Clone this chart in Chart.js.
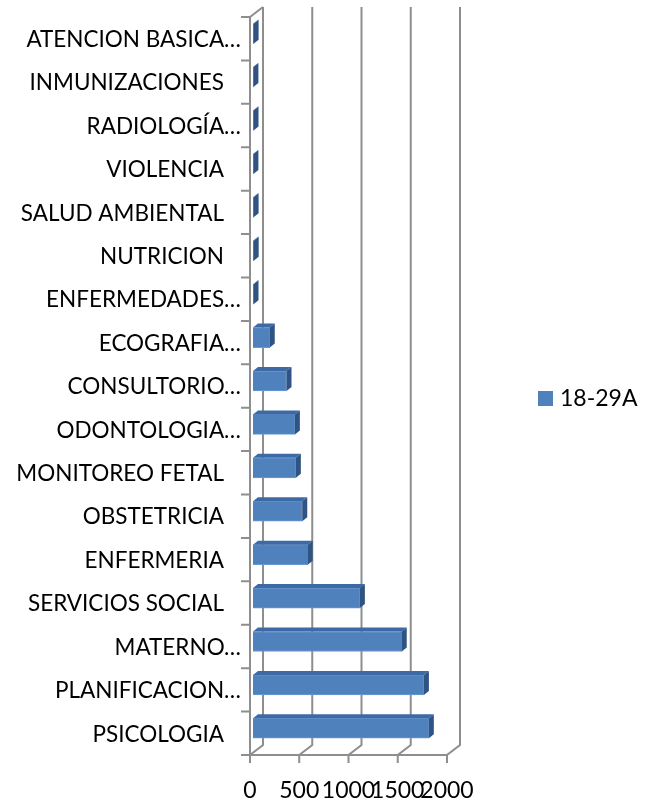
<!DOCTYPE html>
<html>
<head>
<meta charset="utf-8">
<script src="https://cdn.jsdelivr.net/npm/chart.js@4/dist/chart.umd.min.js"></script>
<style>
html,body{margin:0;padding:0;background:#fff;}
#wrap{width:654px;height:801px;position:relative;}
</style>
</head>
<body>
<div id="wrap"><canvas id="c" width="654" height="801"></canvas></div>
<script>
const categories = [
  "ATENCION BASICA\u2026",
  "INMUNIZACIONES ",
  "RADIOLOG\u00cdA\u2026",
  "VIOLENCIA ",
  "SALUD AMBIENTAL ",
  "NUTRICION ",
  "ENFERMEDADES\u2026",
  "ECOGRAFIA\u2026",
  "CONSULTORIO\u2026",
  "ODONTOLOGIA\u2026",
  "MONITOREO FETAL ",
  "OBSTETRICIA ",
  "ENFERMERIA ",
  "SERVICIOS SOCIAL ",
  "MATERNO\u2026",
  "PLANIFICACION\u2026",
  "PSICOLOGIA "
];
const seriesName = "18-29A";
const values = [6, 4, 5, 4, 6, 7, 5, 170, 340, 425, 435, 500, 555, 1085, 1510, 1735, 1785];
const xTicks = [0, 500, 1000, 1500, 2000];

const FONT = "Lato";
const FSIZE = 23;
const YSIZE = 22.5;
const BAR = '#4f81bd';
const DX = 5, DY = 4;        // bar depth
const WX = 10, WY = 5;       // back wall offset
const FX = -3, FY = 5;       // front floor offset

const frame3d = {
  id: 'frame3d',
  beforeDatasetsDraw(chart) {
    const ctx = chart.ctx, a = chart.chartArea;
    const xs = chart.scales.x;
    ctx.save();
    ctx.strokeStyle = '#8e8e8e';
    ctx.lineWidth = 2;
    ctx.beginPath();
    ctx.moveTo(a.left + FX, a.top + FY);
    ctx.lineTo(a.left + FX, a.bottom + FY);
    ctx.moveTo(a.left + FX, a.top + FY);
    ctx.lineTo(a.left + WX, a.top - WY);
    ctx.moveTo(a.left + FX - 1, a.bottom + FY);
    ctx.lineTo(xs.getPixelForValue(xTicks[xTicks.length - 1]) + FX, a.bottom + FY);
    xTicks.forEach(v => {
      const xf = xs.getPixelForValue(v);
      ctx.moveTo(xf + WX, a.top - WY);
      ctx.lineTo(xf + WX, a.bottom - WY);
      ctx.lineTo(xf + FX, a.bottom + FY);
      ctx.lineTo(xf + FX, a.bottom + FY + 8);
    });
    const n = categories.length;
    const band = (a.bottom - a.top) / n;
    for (let k = 0; k <= n; k++) {
      const y = a.top + FY + k * band;
      ctx.moveTo(a.left + FX - 9, y);
      ctx.lineTo(a.left + FX, y);
    }
    ctx.stroke();
    ctx.restore();
  },
  afterDatasetsDraw(chart) {
    const ctx = chart.ctx;
    const meta = chart.getDatasetMeta(0);
    ctx.save();
    meta.data.forEach(el => {
      const p = el.getProps(['x', 'y', 'base', 'height'], true);
      const top = p.y - p.height / 2, bot = p.y + p.height / 2;
      ctx.fillStyle = '#3d6aa4';
      ctx.beginPath();
      ctx.moveTo(p.base, top);
      ctx.lineTo(p.x, top);
      ctx.lineTo(p.x + DX, top - DY);
      ctx.lineTo(p.base + DX, top - DY);
      ctx.closePath();
      ctx.fill();
      ctx.fillStyle = '#2f5382';
      ctx.beginPath();
      ctx.moveTo(p.x, top);
      ctx.lineTo(p.x + DX, top - DY);
      ctx.lineTo(p.x + DX, bot - DY);
      ctx.lineTo(p.x, bot);
      ctx.closePath();
      ctx.fill();
    });
    ctx.restore();
  },
  afterDraw(chart) {
    const ctx = chart.ctx;
    ctx.save();
    ctx.fillStyle = BAR;
    ctx.fillRect(538, 391, 15, 15);
    ctx.fillStyle = '#000';
    ctx.font = FSIZE + 'px ' + FONT;
    ctx.textBaseline = 'middle';
    ctx.textAlign = 'left';
    ctx.fillText(chart.data.datasets[0].label, 560, 399);
    ctx.restore();
  }
};

new Chart(document.getElementById('c'), {
  type: 'bar',
  data: {
    labels: categories,
    datasets: [{
      label: seriesName,
      data: values,
      backgroundColor: BAR,
      borderColor: '#6a98d2',
      borderWidth: 1,
      barThickness: 20
    }]
  },
  options: {
    indexAxis: 'y',
    responsive: false,
    animation: false,
    layout: { padding: { top: 12, right: 204, bottom: 0, left: 0 } },
    plugins: {
      tooltip: { enabled: false },
      legend: { display: false }
    },
    scales: {
      x: {
        min: 0, max: 2000,
        afterBuildTicks(s) { s.ticks = xTicks.map(v => ({ value: v })); },
        afterFit(s) { s.height = 51; s.paddingLeft = 0; s.paddingRight = 0; },
        grid: { display: false, drawTicks: false },
        border: { display: false },
        ticks: {
          autoSkip: false, maxRotation: 0, padding: 27, labelOffset: FX,
          color: '#000', font: { family: FONT, size: FSIZE },
          callback: v => String(v)
        }
      },
      y: {
        afterFit(s) { s.width = 253; s.paddingTop = 0; s.paddingBottom = 0; },
        grid: { display: false, drawTicks: false },
        border: { display: false },
        ticks: {
          autoSkip: false, padding: 12, labelOffset: 6,
          color: '#000', font: { family: FONT, size: YSIZE },
          callback(v) {
            const s = this.getLabelForValue(v);
            return s.endsWith(' ') ? s + '\u2002' : s;
          }
        }
      }
    }
  },
  plugins: [frame3d]
});
</script>
</body>
</html>
